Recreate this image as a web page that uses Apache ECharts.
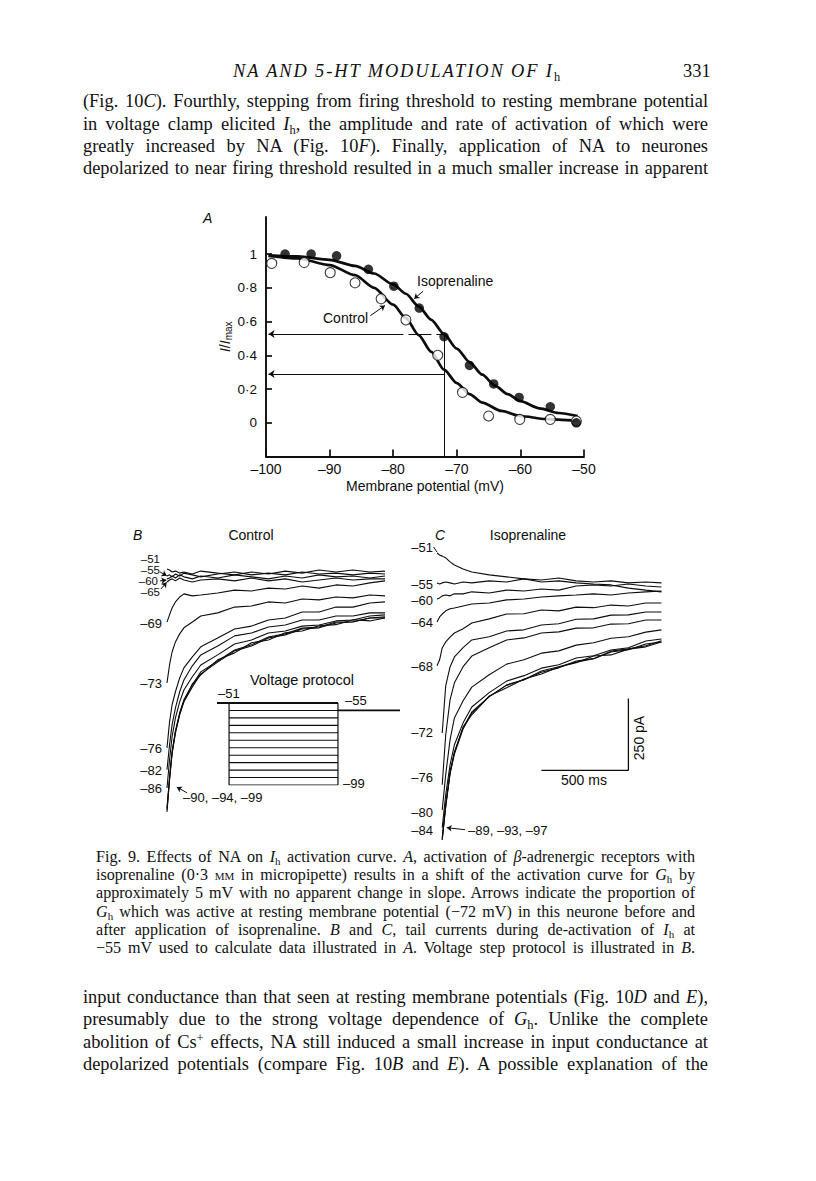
<!DOCTYPE html>
<html>
<head>
<meta charset="utf-8">
<script src="https://cdn.jsdelivr.net/npm/echarts@6/dist/echarts.min.js"></script>
<style>
html,body{margin:0;padding:0;background:#fff;}
#page{position:relative;width:816px;height:1181px;overflow:hidden;background:#fff;}
#chart{position:absolute;left:0;top:0;width:816px;height:1181px;}
.t{position:absolute;font-family:"Liberation Serif",serif;color:#111;white-space:normal;text-align:justify;text-align-last:justify;}
.p{font-size:18.4px;line-height:22px;height:22px;left:83px;width:625px;}
.c{font-size:16.1px;line-height:18px;height:18px;left:96px;width:599px;}
sub{font-size:0.68em;vertical-align:-0.3em;line-height:0;}
sup{font-size:0.68em;vertical-align:0.45em;line-height:0;}
.sc{font-variant:small-caps;}
</style>
</head>
<body>
<div id="page">
<div id="chart"></div>
<div class="t" style="left:233px;top:61px;font-size:18.4px;letter-spacing:1.9px;font-style:italic;white-space:nowrap;text-align:left;text-align-last:auto;">NA AND 5-HT MODULATION OF <i>I</i><sub style="font-style:normal">h</sub></div>
<div class="t" style="left:683px;top:61px;font-size:18.4px;white-space:nowrap;text-align:left;text-align-last:auto;">331</div>

<div class="t p" style="top:90px;">(Fig. 10<i>C</i>). Fourthly, stepping from firing threshold to resting membrane potential</div>
<div class="t p" style="top:113px;">in voltage clamp elicited <i>I</i><sub>h</sub>, the amplitude and rate of activation of which were</div>
<div class="t p" style="top:135px;">greatly increased by NA (Fig. 10<i>F</i>). Finally, application of NA to neurones</div>
<div class="t p" style="top:157px;">depolarized to near firing threshold resulted in a much smaller increase in apparent</div>

<div class="t c" style="top:848px;">Fig. 9. Effects of NA on <i>I</i><sub>h</sub> activation curve. <i>A</i>, activation of <i>β</i>-adrenergic receptors with</div>
<div class="t c" style="top:866px;">isoprenaline (0·3 <span class="sc">mm</span> in micropipette) results in a shift of the activation curve for <i>G</i><sub>h</sub> by</div>
<div class="t c" style="top:884px;">approximately 5 mV with no apparent change in slope. Arrows indicate the proportion of</div>
<div class="t c" style="top:903px;"><i>G</i><sub>h</sub> which was active at resting membrane potential (−72 mV) in this neurone before and</div>
<div class="t c" style="top:921px;">after application of isoprenaline. <i>B</i> and <i>C</i>, tail currents during de-activation of <i>I</i><sub>h</sub> at</div>
<div class="t c" style="top:939px;">−55 mV used to calculate data illustrated in <i>A</i>. Voltage step protocol is illustrated in <i>B</i>.</div>

<div class="t p" style="top:986px;">input conductance than that seen at resting membrane potentials (Fig. 10<i>D</i> and <i>E</i>),</div>
<div class="t p" style="top:1008px;">presumably due to the strong voltage dependence of <i>G</i><sub>h</sub>. Unlike the complete</div>
<div class="t p" style="top:1031px;">abolition of Cs<sup>+</sup> effects, NA still induced a small increase in input conductance at</div>
<div class="t p" style="top:1053px;">depolarized potentials (compare Fig. 10<i>B</i> and <i>E</i>). A possible explanation of the</div>
</div>
<script>
// ---------- Panel A: activation curves ----------
const ISO_V  = [-97.0, -92.9, -88.9, -83.9, -79.9, -75.9, -72.0, -68.0, -64.2, -60.2, -55.3, -51.2];
const ISO_G  = [1.00, 1.00, 0.99, 0.91, 0.81, 0.68, 0.51, 0.34, 0.23, 0.15, 0.095, 0.00];
const CTRL_V = [-99.1, -94.0, -89.9, -86.0, -81.9, -78.0, -73.0, -69.1, -65.0, -60.1, -55.3, -51.2];
const CTRL_G = [0.945, 0.95, 0.89, 0.83, 0.735, 0.61, 0.40, 0.18, 0.04, 0.02, 0.02, 0.01];
const ISO_FIT_V  = [-99.6, -95, -90, -86, -83, -80, -78, -76, -74, -72, -70, -68, -66, -64, -62, -60, -57, -54, -51];
const ISO_FIT_G  = [0.993, 0.986, 0.966, 0.93, 0.885, 0.82, 0.765, 0.69, 0.61, 0.525, 0.44, 0.36, 0.285, 0.22, 0.17, 0.128, 0.085, 0.058, 0.04];
const CTRL_FIT_V = [-99.6, -95, -90, -86, -83, -80, -78, -76, -74, -72, -70, -68, -66, -63, -60, -56, -51];
const CTRL_FIT_G = [0.99, 0.975, 0.935, 0.875, 0.80, 0.70, 0.62, 0.52, 0.42, 0.315, 0.235, 0.17, 0.12, 0.07, 0.04, 0.022, 0.012];
const A_Y_TICKS = [0, 0.2, 0.4, 0.6, 0.8, 1];
const REST_V = -72;
const REST_G_ISO = 0.527;
const REST_G_CTRL = 0.289;

// ---------- Panels B & C: tail currents (pA) sampled at these times (ms) ----------
const T_MS = [0, 15, 30, 50, 75, 100, 150, 200, 300, 400, 500, 600, 700, 800, 900, 1000, 1100, 1200, 1290];

const B_LABELS = ['–51', '–55', '–60', '–65', '–69', '–73', '–76', '–82', '–86', '–90', '–94', '–99'];
const B_M51 = [-101,-104,-111,-108,-115,-111,-118,-108,-115,-121,-111,-118,-108,-115,-104,-111,-104,-111,-108];
const B_M55 = [-125,-121,-128,-118,-125,-115,-121,-128,-118,-111,-121,-115,-121,-111,-118,-115,-121,-115,-118];
const B_M60 = [-135,-132,-125,-132,-121,-128,-135,-125,-132,-121,-128,-135,-125,-132,-121,-128,-125,-132,-125];
const B_M65 = [-146,-139,-135,-142,-132,-139,-146,-139,-135,-142,-132,-142,-135,-146,-139,-132,-139,-135,-135];
const B_M69 = [-285,-260,-236,-215,-198,-187,-194,-191,-184,-174,-177,-167,-170,-160,-167,-156,-160,-149,-142];
const B_M73 = [-496,-434,-389,-354,-326,-305,-285,-264,-253,-233,-229,-215,-219,-205,-208,-198,-201,-191,-194];
const B_M76 = [-722,-632,-573,-527,-479,-444,-406,-371,-340,-309,-299,-278,-271,-250,-250,-233,-233,-219,-215];
const B_M82 = [-798,-711,-642,-583,-527,-486,-437,-399,-368,-333,-323,-302,-295,-278,-278,-264,-264,-253,-253];
const B_M86 = [-861,-763,-684,-618,-562,-521,-475,-434,-399,-361,-347,-323,-316,-299,-295,-281,-278,-264,-260];
const B_M90 = [-930,-826,-736,-663,-600,-555,-503,-458,-420,-382,-364,-337,-326,-306,-302,-285,-284,-271,-271];
const B_M94 = [-937,-829,-739,-666,-604,-559,-500,-468,-416,-392,-357,-347,-322,-316,-298,-294,-277,-281,-271];
const B_M99 = [-944,-833,-743,-670,-607,-562,-510,-465,-424,-385,-368,-340,-330,-309,-305,-288,-285,-271,-267];

const C_LABELS = ['–51', '–55', '–60', '–64', '–68', '–72', '–76', '–80', '–84', '–89', '–93', '–97'];
const C_M51 = [-45,-52,-56,-62,-76,-87,-101,-111,-121,-128,-135,-146,-142,-149,-153,-156,-167,-174,-180];
const C_M55 = [-149,-153,-149,-146,-149,-153,-146,-149,-142,-146,-135,-139,-132,-142,-146,-142,-149,-146,-149];
const C_M60 = [-205,-201,-194,-191,-194,-187,-187,-180,-184,-174,-177,-170,-174,-160,-156,-160,-153,-160,-163];
const C_M64 = [-285,-267,-257,-246,-239,-236,-229,-222,-219,-208,-205,-198,-194,-191,-187,-191,-184,-180,-177];
const C_M68 = [-437,-416,-375,-354,-337,-323,-308,-288,-274,-257,-256,-243,-246,-233,-235,-226,-229,-219,-219];
const C_M72 = [null,null,-670,-507,-441,-406,-374,-347,-336,-316,-312,-295,-291,-275,-274,-261,-260,-250,-250];
const C_M76 = [null,null,-850,-677,-555,-496,-440,-403,-374,-347,-340,-323,-319,-306,-305,-292,-291,-278,-278];
const C_M80 = [null,null,-937,-815,-694,-618,-558,-511,-468,-431,-416,-393,-385,-365,-357,-341,-336,-320,-312];
const C_M84 = [null,null,-999,-885,-781,-711,-635,-580,-530,-490,-471,-445,-433,-410,-402,-382,-374,-351,-344];
const C_M89 = [null,null,-1034,-920,-805,-736,-652,-597,-544,-504,-485,-459,-444,-420,-412,-389,-381,-361,-354];
const C_M93 = [null,null,-1041,-923,-809,-739,-649,-607,-542,-513,-483,-465,-441,-426,-403,-399,-379,-371,-354];
const C_M97 = [null,null,-1041,-926,-812,-743,-656,-601,-544,-504,-485,-455,-440,-424,-412,-386,-378,-367,-350];

// scale bar (C): 500 ms x 250 pA
const SCALE_T = [600, 1100];
const SCALE_PA = [-800, -550];

// voltage protocol (schematic), mV levels and schematic times
const PROTO_LEVELS = ['–51', '–55', '–60', '–65', '–69', '–73', '–76', '–82', '–86', '–90', '–94', '–99'];
const PROTO_TIMES = [0, 66, 661, 1000];

// ---------- build ----------
const INK = '#0d0d0d';
const SANS = '"Liberation Sans", Arial, sans-serif';
const chart = echarts.init(document.getElementById('chart'), null, {renderer: 'svg'});

function trace(vals, g) {
  return {
    type: 'line', xAxisIndex: g, yAxisIndex: g, showSymbol: false, symbol: 'none',
    data: T_MS.map((t, i) => [t, vals[i]]).filter(d => d[1] != null),
    lineStyle: {color: INK, width: 1.1}, silent: true, z: 2
  };
}
function arrowLines(coords, g, opts) {
  return Object.assign({
    type: 'lines', coordinateSystem: 'cartesian2d', xAxisIndex: g, yAxisIndex: g, clip: false,
    symbol: ['none', 'arrow'], symbolSize: 6, silent: true,
    lineStyle: {color: INK, width: 1, curveness: 0, opacity: 1},
    data: coords.map(c => ({coords: c}))
  }, opts || {});
}
function txt(x, y, s, o) {
  o = o || {};
  return {type: 'text', x: x, y: y, rotation: o.rot || 0, silent: true, z: 10,
    style: {text: s, fill: INK, font: (o.it ? 'italic ' : '') + (o.size || 13) + 'px ' + SANS,
      align: o.align || 'left', verticalAlign: 'middle'}};
}

const B_ALL = [B_M51, B_M55, B_M60, B_M65, B_M69, B_M73, B_M76, B_M82, B_M86, B_M90, B_M94, B_M99];
const C_ALL = [C_M51, C_M55, C_M60, C_M64, C_M68, C_M72, C_M76, C_M80, C_M84, C_M89, C_M93, C_M97];

const series = [];
// Panel A
series.push({type: 'line', xAxisIndex: 0, yAxisIndex: 0, smooth: 0.25, smoothMonotone: 'x', symbol: 'none',
  data: ISO_FIT_V.map((v, i) => [v, ISO_FIT_G[i]]), lineStyle: {color: INK, width: 2.7}, z: 2});
series.push({type: 'line', xAxisIndex: 0, yAxisIndex: 0, smooth: 0.25, smoothMonotone: 'x', symbol: 'none',
  data: CTRL_FIT_V.map((v, i) => [v, CTRL_FIT_G[i]]), lineStyle: {color: INK, width: 2.7}, z: 2});
series.push({type: 'scatter', xAxisIndex: 0, yAxisIndex: 0, symbol: 'circle', symbolSize: 10,
  data: CTRL_V.map((v, i) => [v, CTRL_G[i]]), itemStyle: {color: '#fff', borderColor: INK, borderWidth: 1.1}, z: 4});
series.push({type: 'scatter', xAxisIndex: 0, yAxisIndex: 0, symbol: 'circle', symbolSize: 9.5,
  data: ISO_V.map((v, i) => [v, ISO_G[i]]), itemStyle: {color: '#000'}, z: 5});
// resting-potential arrows
series.push(arrowLines([
  [[REST_V - 6.4, REST_G_ISO], [-99.6, REST_G_ISO]],
  [[REST_V, REST_G_CTRL], [-99.6, REST_G_CTRL]]
], 0));
series.push(arrowLines([
  [[REST_V, -0.2], [REST_V, REST_G_ISO]],
  [[REST_V, REST_G_ISO], [REST_V - 1.2, REST_G_ISO]],
  [[REST_V - 2.0, REST_G_ISO], [REST_V - 5.6, REST_G_ISO]]
], 0, {symbol: ['none', 'none']}));
// label leaders
series.push(arrowLines([
  [[-75.3, 0.78], [-76.7, 0.735]],
  [[-83.6, 0.635], [-81.3, 0.695]]
], 0, {symbolSize: 5}));

// Panels B and C
B_ALL.forEach(v => series.push(trace(v, 1)));
C_ALL.forEach(v => series.push(trace(v, 2)));
// small label arrows in B and C
series.push(arrowLines([
  [[-41, -111], [-2, -124]],
  [[-41, -142], [-4, -139]],
  [[-36, -170], [-2, -147]],
  [[118, -878], [58, -858]]
], 1, {symbolSize: 5}));
series.push(arrowLines([
  [[161, -1006], [56, -999]]
], 2, {symbolSize: 5}));
series.push(arrowLines([
  [[-20, -24], [0, -42]]
], 2, {symbol: ['none', 'none']}));
// scale bar
series.push({type: 'line', xAxisIndex: 2, yAxisIndex: 2, symbol: 'none',
  data: [[SCALE_T[0], SCALE_PA[0]], [SCALE_T[1], SCALE_PA[0]], [SCALE_T[1], SCALE_PA[1]]],
  lineStyle: {color: INK, width: 1.3}});

// Voltage protocol
const P0 = PROTO_LEVELS[0], PN = PROTO_LEVELS[PROTO_LEVELS.length - 1];
series.push({type: 'line', xAxisIndex: 3, yAxisIndex: 3, symbol: 'none',
  data: [[PROTO_TIMES[0], P0], [PROTO_TIMES[2], P0]], lineStyle: {color: INK, width: 1.8}});
series.push({type: 'line', xAxisIndex: 3, yAxisIndex: 3, symbol: 'none',
  data: [[PROTO_TIMES[2], PROTO_LEVELS[1]], [PROTO_TIMES[3], PROTO_LEVELS[1]]], lineStyle: {color: INK, width: 1.8}});
series.push({type: 'line', xAxisIndex: 3, yAxisIndex: 3, symbol: 'none',
  data: [[PROTO_TIMES[1], P0], [PROTO_TIMES[1], PN]], lineStyle: {color: INK, width: 1.2}});
series.push({type: 'line', xAxisIndex: 3, yAxisIndex: 3, symbol: 'none',
  data: [[PROTO_TIMES[2], P0], [PROTO_TIMES[2], PN]], lineStyle: {color: INK, width: 1.2}});
PROTO_LEVELS.slice(1).forEach(l => series.push({type: 'line', xAxisIndex: 3, yAxisIndex: 3, symbol: 'none',
  data: [[PROTO_TIMES[1], l], [PROTO_TIMES[2], l]], lineStyle: {color: INK, width: 1.1}}));

const hidden = {show: false};
const option = {
  animation: false,
  backgroundColor: 'transparent',
  grid: [
    {left: 266, top: 217, width: 318, height: 239.5},
    {left: 167, top: 540, width: 219.7, height: 311},
    {left: 437, top: 540, width: 226.2, height: 311},
    {left: 217, top: 703, width: 183, height: 82}
  ],
  xAxis: [
    {gridIndex: 0, type: 'value', min: -100, max: -50, interval: 10,
      axisLine: {onZero: false, lineStyle: {color: INK, width: 1.9}},
      axisTick: {inside: true, length: 7, lineStyle: {color: INK, width: 1.7}},
      axisLabel: {color: INK, fontSize: 14, fontFamily: SANS, margin: 5, formatter: v => '–' + Math.abs(v)},
      splitLine: hidden,
      name: 'Membrane potential (mV)', nameLocation: 'middle', nameGap: 22,
      nameTextStyle: {color: INK, fontSize: 14, fontFamily: SANS}},
    {gridIndex: 1, type: 'value', min: 0, max: 1300, show: false},
    {gridIndex: 2, type: 'value', min: 0, max: 1300, show: false},
    {gridIndex: 3, type: 'value', min: 0, max: 1000, show: false}
  ],
  yAxis: [
    {gridIndex: 0, type: 'value', min: -0.2, max: 1.22, interval: 0.2,
      axisLine: {show: true, onZero: false, lineStyle: {color: INK, width: 1.9}},
      axisTick: {show: true, inside: true, length: 6, customValues: A_Y_TICKS, lineStyle: {color: INK, width: 1.7}},
      axisLabel: {color: INK, fontSize: 13.5, fontFamily: SANS, margin: 9, customValues: A_Y_TICKS,
        formatter: v => (Math.abs(v) < 1e-9 ? '0' : Math.abs(v - 1) < 1e-9 ? '1' : '0·' + Math.round(v * 10))},
      splitLine: hidden,
      name: '{it|I}/{it|I}{sub|max}', nameLocation: 'middle', nameGap: 33, nameRotate: 90,
      nameTextStyle: {color: INK, fontSize: 14, fontFamily: SANS,
        rich: {it: {fontStyle: 'italic', fontSize: 14, fontFamily: SANS, color: INK},
               sub: {fontSize: 10, fontFamily: SANS, color: INK, padding: [7, 0, 0, 0]}}}},
    {gridIndex: 1, type: 'value', min: -1080, max: 0, show: false},
    {gridIndex: 2, type: 'value', min: -1080, max: 0, show: false},
    {gridIndex: 3, type: 'category', data: PROTO_LEVELS, inverse: true, boundaryGap: false, show: false}
  ],
  graphic: [
    txt(203, 218, 'A', {it: true, size: 14}),
    txt(417, 281, 'Isoprenaline', {size: 14}),
    txt(323, 318, 'Control', {size: 14}),
    txt(133, 535, 'B', {it: true, size: 14}),
    txt(251, 535, 'Control', {align: 'center', size: 14}),
    txt(435, 535, 'C', {it: true, size: 14}),
    txt(528, 535, 'Isoprenaline', {align: 'center', size: 14}),
    txt(160, 559, B_LABELS[0], {align: 'right', size: 11.5}),
    txt(160, 570, B_LABELS[1], {align: 'right', size: 11.5}),
    txt(158, 581, B_LABELS[2], {align: 'right', size: 11.5}),
    txt(160, 592, B_LABELS[3], {align: 'right', size: 11.5}),
    txt(162, 623, B_LABELS[4], {align: 'right'}),
    txt(162, 683, B_LABELS[5], {align: 'right'}),
    txt(162, 748, B_LABELS[6], {align: 'right'}),
    txt(162, 770, B_LABELS[7], {align: 'right'}),
    txt(162, 788, B_LABELS[8], {align: 'right'}),
    txt(183, 797, B_LABELS.slice(9).join(', ')),
    txt(433, 547, C_LABELS[0], {align: 'right'}),
    txt(433, 584, C_LABELS[1], {align: 'right'}),
    txt(433, 600, C_LABELS[2], {align: 'right'}),
    txt(433, 622, C_LABELS[3], {align: 'right'}),
    txt(433, 666, C_LABELS[4], {align: 'right'}),
    txt(433, 732, C_LABELS[5], {align: 'right'}),
    txt(433, 777, C_LABELS[6], {align: 'right'}),
    txt(433, 812, C_LABELS[7], {align: 'right'}),
    txt(433, 830, C_LABELS[8], {align: 'right'}),
    txt(468, 830, C_LABELS.slice(9).join(', ')),
    txt(302, 680, 'Voltage protocol', {align: 'center', size: 14.5}),
    txt(218, 693, PROTO_LEVELS[0]),
    txt(345, 700, PROTO_LEVELS[1]),
    txt(343, 783, PROTO_LEVELS[PROTO_LEVELS.length - 1]),
    txt(584, 780, '500 ms', {align: 'center', size: 14}),
    txt(639, 738, '250 pA', {align: 'center', size: 14, rot: Math.PI / 2})
  ],
  series: series
};
chart.setOption(option);
</script>
</body>
</html>
